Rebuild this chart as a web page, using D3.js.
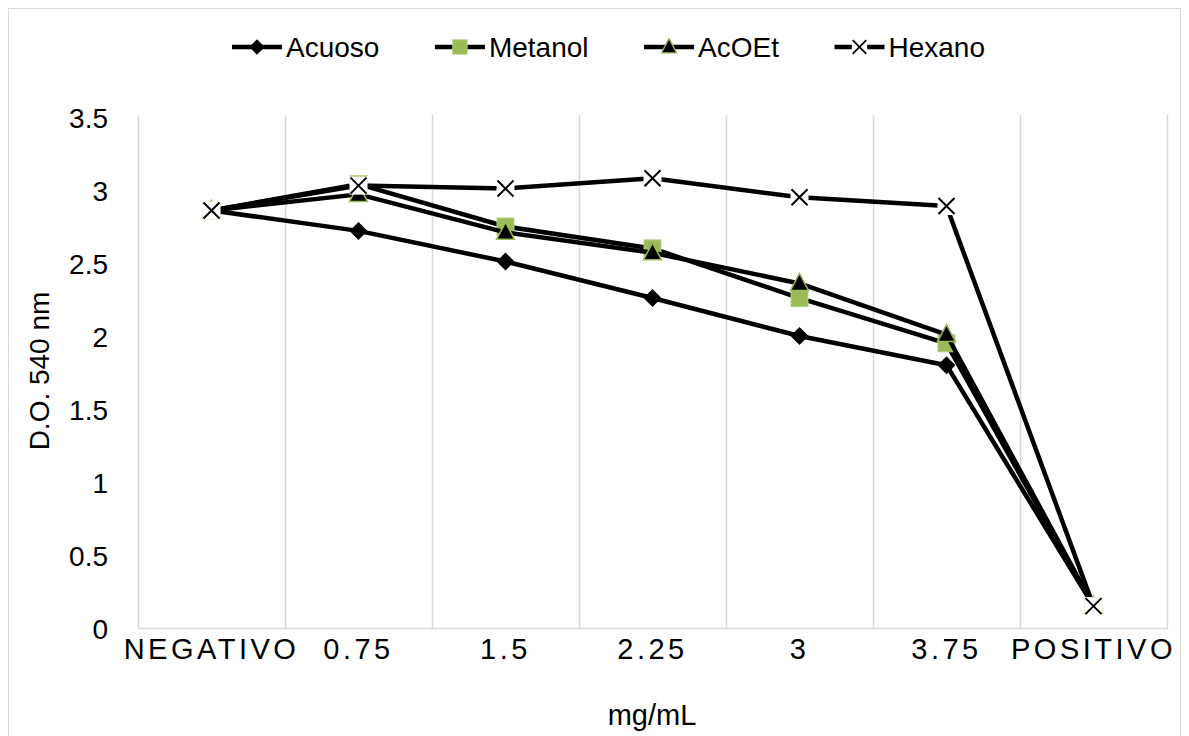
<!DOCTYPE html>
<html><head><meta charset="utf-8">
<script src="https://cdn.jsdelivr.net/npm/d3@7"></script>
<style>body{margin:0;background:#fff}svg{display:block;font-family:"Liberation Sans",Arial,sans-serif}</style>
</head><body><svg id="c" width="1189" height="736"></svg>
<script>
const categories = ["NEGATIVO","0.75","1.5","2.25","3","3.75","POSITIVO"];
const acuoso  = [2.86, 2.72, 2.51, 2.26, 2.00, 1.80, 0.15];
const metanol = [2.86, 3.04, 2.75, 2.60, 2.26, 1.95, 0.15];
const acoet   = [2.86, 2.97, 2.71, 2.57, 2.36, 2.01, 0.15];
const hexano  = [2.86, 3.03, 3.01, 3.08, 2.95, 2.89, 0.15];
const seriesNames = ["Acuoso","Metanol","AcOEt","Hexano"];
const yTicks = [0,0.5,1,1.5,2,2.5,3,3.5];

const series = [
  {name:seriesNames[0], values:acuoso, marker:"diamond"},
  {name:seriesNames[1], values:metanol, marker:"square"},
  {name:seriesNames[2], values:acoet, marker:"triangle"},
  {name:seriesNames[3], values:hexano, marker:"x"}
];

const FS = 28;
const svg = d3.select("#c");
svg.append("rect").attr("x",8.5).attr("y",8.5).attr("width",1172).attr("height",740)
  .attr("fill","#fff").attr("stroke","#d9d9d9").attr("stroke-width",1);

const m={l:138,r:1167,t:117,b:628};
const x = d3.scaleBand().domain(categories).range([m.l,m.r]).padding(0);
const y = d3.scaleLinear().domain([0,3.5]).range([m.b,m.t]);

const bounds = categories.map(c=>x(c)+x.bandwidth()).concat([x(categories[0])]);
svg.append("g").selectAll("line").data(bounds).join("line")
  .attr("x1",d=>Math.round(d)+0.5).attr("x2",d=>Math.round(d)+0.5)
  .attr("y1",m.t-2).attr("y2",m.b)
  .attr("stroke","#d9d9d9").attr("stroke-width",1.5);
svg.append("line").attr("x1",m.l).attr("x2",m.r+1).attr("y1",m.b+0.5).attr("y2",m.b+0.5)
  .attr("stroke","#d9d9d9").attr("stroke-width",1.5);

const yAxis = d3.axisLeft(y).tickValues(yTicks).tickSize(0).tickPadding(30).tickFormat(d=>String(d));
const yg = svg.append("g").attr("transform",`translate(${m.l},0)`).call(yAxis);
yg.select(".domain").remove();
yg.attr("font-size",FS).attr("font-family",null);
yg.selectAll("text").attr("fill","#000").attr("dy","0.36em");

const xAxis = d3.axisBottom(x).tickSize(0).tickPadding(10);
const xg = svg.append("g").attr("transform",`translate(0,${m.b})`).call(xAxis);
xg.select(".domain").remove();
xg.attr("font-size",29).attr("font-family",null);
xg.selectAll("text").attr("fill","#000").attr("letter-spacing","3.5px");

svg.append("text").attr("x",652).attr("y",725).attr("text-anchor","middle").attr("font-size",29).text("mg/mL");
svg.append("text").attr("transform","translate(49,371) rotate(-90)").attr("text-anchor","middle").attr("font-size",FS).text("D.O. 540 nm");

const cx = c=>x(c)+x.bandwidth()/2;
const line = d3.line().x((d,i)=>cx(categories[i])).y(d=>y(d));

function drawMarker(g, type, px, py){
  if(type==="diamond"){
    g.append("path").attr("d",`M${px},${py-9}L${px+9},${py}L${px},${py+9}L${px-9},${py}Z`).attr("fill","#000");
  } else if(type==="square"){
    g.append("rect").attr("x",px-8.5).attr("y",py-8.5).attr("width",17).attr("height",17)
      .attr("fill","#9bbb59").attr("stroke","#b8d08a").attr("stroke-width",1);
  } else if(type==="triangle"){
    g.append("path").attr("d",`M${px},${py-10}L${px+9},${py+7}L${px-9},${py+7}Z`)
      .attr("fill","#000").attr("stroke","#9bbb59").attr("stroke-width",1.5);
  } else {
    g.append("rect").attr("x",px-9).attr("y",py-9).attr("width",18).attr("height",18).attr("fill","#fff");
    g.append("path").attr("d",`M${px-8},${py-8}L${px+8},${py+8}M${px+8},${py-8}L${px-8},${py+8}`)
      .attr("stroke","#000").attr("stroke-width",2);
  }
}

series.forEach(s=>{
  const g = svg.append("g");
  g.append("path").datum(s.values).attr("d",line).attr("fill","none").attr("stroke","#000")
    .attr("stroke-width",4.5).attr("stroke-linejoin","round");
  s.values.forEach((v,i)=>drawMarker(g,s.marker,cx(categories[i]),y(v)));
});

// legend: measure and lay out evenly between 232 and 985
const LL=50, TG=4;
const legG = svg.append("g");
const items = series.map(s=>{
  const g=legG.append("g");
  const t=g.append("text").attr("font-size",FS).attr("y",10).text(s.name);
  return {s,g,t,w:t.node().getComputedTextLength()};
});
const total = 985-232;
const used = d3.sum(items,d=>LL+TG+d.w);
const gap = (total-used)/(items.length-1);
let cur = 232;
items.forEach(it=>{
  const ly=47;
  it.g.attr("transform",`translate(${cur},${ly})`);
  it.g.insert("line","text").attr("x1",0).attr("x2",LL).attr("y1",0).attr("y2",0).attr("stroke","#000").attr("stroke-width",4.5);
  const mg=it.g.insert("g","text").attr("transform",`translate(${LL/2},0) scale(0.85)`);
  drawMarker(mg,it.s.marker,0,0);
  it.t.attr("x",LL+TG);
  cur += LL+TG+it.w+gap;
});
</script></body></html>
